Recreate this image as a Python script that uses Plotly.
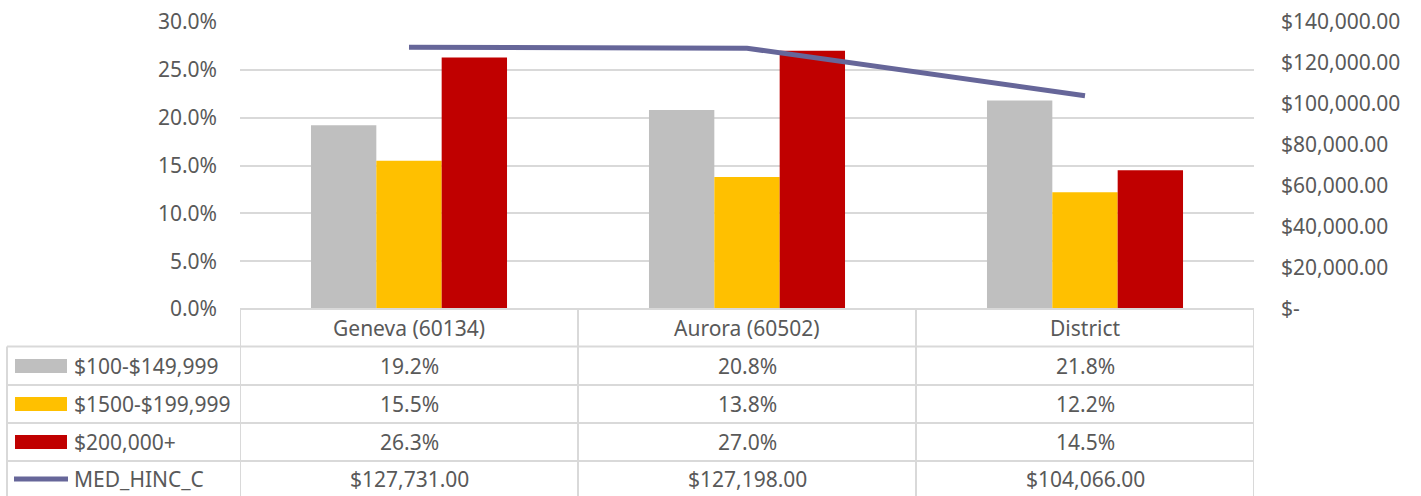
import plotly.graph_objects as go

categories = ["Geneva (60134)", "Aurora (60502)", "District"]
series_names = ["$100-$149,999", "$1500-$199,999", "$200,000+"]
s1 = [0.192, 0.208, 0.218]
s2 = [0.155, 0.138, 0.122]
s3 = [0.263, 0.270, 0.145]
line_name = "MED_HINC_C"
med_hinc = [127731.00, 127198.00, 104066.00]
right_ticks = [0, 20000, 40000, 60000, 80000, 100000, 120000, 140000]

bar_colors = ["#BFBFBF", "#FFC000", "#C00000"]
line_color = "#666699"
grid_color = "#D9D9D9"
text_color = "#595959"
FONT = "Noto Sans"
FS = 21

W, H = 1421, 496
L, R, T, B = 240, 167, 22, 187
PW = W - L - R
PH = H - T - B
bottom_px = H - B


def px_x(px):
    return (px - L) / PW


def px_y(py):
    return (bottom_px - py) / PH


fig = go.Figure()
bar_series = [s1, s2, s3]
for name, vals, col in zip(series_names, bar_series, bar_colors):
    fig.add_trace(go.Bar(x=categories, y=vals, name=name, marker_color=col,
                         marker_line_width=0, yaxis="y"))
fig.add_trace(go.Scatter(x=categories, y=med_hinc, name=line_name, mode="lines",
                         line=dict(color=line_color, width=5), yaxis="y2"))

shapes = []
line_style = dict(color=grid_color, width=2)
shapes.append(dict(type="line", xref="paper", yref="paper", x0=0, x1=1,
                   y0=px_y(bottom_px), y1=px_y(bottom_px), line=line_style))
row_lines = [346.5, 385, 423, 461]
for ry in row_lines:
    shapes.append(dict(type="line", xref="paper", yref="paper", x0=px_x(7), x1=1,
                       y0=px_y(ry), y1=px_y(ry), line=line_style))
shapes.append(dict(type="line", xref="paper", yref="paper", x0=px_x(7), x1=px_x(7),
                   y0=px_y(346.5), y1=px_y(497), line=line_style))
for i in range(len(categories) + 1):
    xv = i - 0.5
    shapes.append(dict(type="line", xref="x", yref="paper", x0=xv, x1=xv,
                       y0=px_y(bottom_px), y1=px_y(497), line=line_style))

row_centers = [366, 404, 442, 479]
for rc, col in zip(row_centers[:3], bar_colors):
    shapes.append(dict(type="rect", xref="paper", yref="paper", x0=px_x(15), x1=px_x(67),
                       y0=px_y(rc - 7), y1=px_y(rc + 7), fillcolor=col, line=dict(width=0)))
shapes.append(dict(type="line", xref="paper", yref="paper", x0=px_x(14), x1=px_x(68),
                   y0=px_y(row_centers[3]), y1=px_y(row_centers[3]),
                   line=dict(color=line_color, width=5)))

annotations = []
afont = dict(family=FONT, size=FS, color=text_color)
for i, c in enumerate(categories):
    annotations.append(dict(text=c, x=i, xref="x", y=px_y(328), yref="paper",
                            showarrow=False, font=afont, xanchor="center", yanchor="middle"))
row_texts = [[f"{v*100:.1f}%" for v in s] for s in bar_series]
row_texts.append([f"${v:,.2f}" for v in med_hinc])
labels = series_names + [line_name]
for r, (rc, texts, lab) in enumerate(zip(row_centers, row_texts, labels)):
    annotations.append(dict(text=lab, x=px_x(72), xref="paper", y=px_y(rc), yref="paper",
                            showarrow=False, font=afont, xanchor="left", yanchor="middle"))
    for i, t in enumerate(texts):
        annotations.append(dict(text=t, x=i, xref="x", y=px_y(rc), yref="paper",
                                showarrow=False, font=afont, xanchor="center", yanchor="middle"))

fig.update_layout(
    width=W, height=H,
    margin=dict(l=L, r=R, t=T, b=B, pad=0, autoexpand=False),
    paper_bgcolor="white", plot_bgcolor="white",
    showlegend=False,
    barmode="group", bargap=0.42, bargroupgap=0,
    font=dict(family=FONT, size=FS, color=text_color),
    xaxis=dict(showticklabels=False, showgrid=False, zeroline=False, showline=False,
               ticks="", range=[-0.5, 2.5], automargin=False),
    yaxis=dict(range=[0, 0.30], dtick=0.05, tickformat=".1%", showgrid=True,
               gridcolor=grid_color, gridwidth=2, zeroline=False, showline=False,
               ticks="", ticklabelstandoff=22, automargin=False),
    yaxis2=dict(overlaying="y", side="right", range=[0, 140000],
                tickvals=right_ticks,
                ticktext=["$-" if v == 0 else f"${v:,.2f}" for v in right_ticks],
                showgrid=False, zeroline=False, showline=False, ticks="",
                ticklabelstandoff=26, automargin=False),
    shapes=shapes,
    annotations=annotations,
)

fig.write_html("out.html", config={"displayModeBar": False},
               post_script="document.body.style.margin='0';document.body.style.overflow='hidden';")
